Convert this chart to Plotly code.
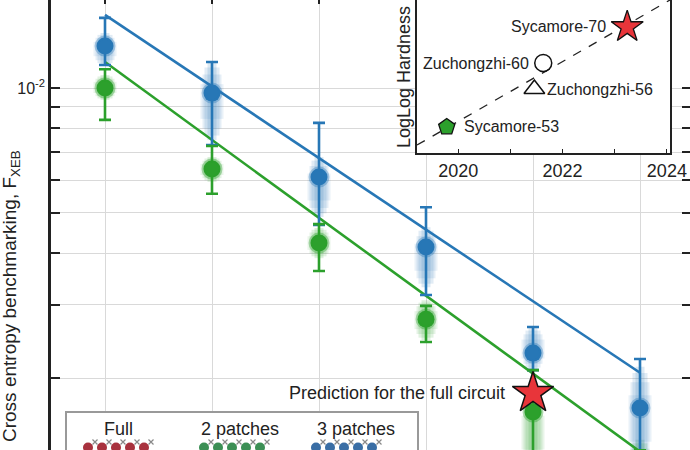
import numpy as np
import plotly.graph_objects as go

# ---------------- data ----------------
cycle_idx = [1, 2, 3, 4, 5, 6]

p3_xeb = [0.01262, 0.00972, 0.0061, 0.00414, 0.002297, 0.001694]
p3_err_hi = [0.01476, 0.01155, 0.00824, 0.00516, 0.002655, 0.002224]
p3_err_lo = [0.01136, 0.00729, 0.00468, 0.00317, 0.00209, 0.0012]
p3_vio_hi = [0.01357, 0.01149, 0.00682, 0.00462, 0.00264, 0.00213]
p3_vio_lo = [0.01136, 0.00749, 0.00489, 0.00331, 0.00209, 0.0012]

p2_xeb = [0.0100, 0.00638, 0.00423, 0.002773, 0.001656, 0.00118]
p2_err_hi = [0.0111, 0.00725, 0.0047, 0.002985, 0.00209, 0.00134]
p2_err_lo = [0.00838, 0.00556, 0.003624, 0.002443, 0.00113, 0.0009]
p2_vio_hi = [0.01075, 0.00682, 0.0046, 0.00308, 0.00182, 0.00142]
p2_vio_lo = [0.00936, 0.00594, 0.00389, 0.00247, 0.0012, 0.00102]

fit_x = [1, 6]
p3_fit = [0.0150, 0.00206]
p2_fit = [0.01155, 0.00133]

full_pred_x = [5]
full_pred_y = [0.00184]

y_tickvals = [0.002, 0.003, 0.004, 0.005, 0.006, 0.007, 0.008, 0.009, 0.01]
y_ticktext = ["", "", "", "", "", "", "", "", "10<sup>-2</sup>"]

# inset
exp_names = ["Sycamore-53", "Zuchongzhi-56", "Zuchongzhi-60", "Sycamore-70"]
exp_year = [2019.78, 2021.46, 2021.63, 2023.24]
exp_hard = [1.70, 4.18, 5.88, 8.24]
trend_year = [2019.21, 2024.06]
trend_hard = [0.52, 10.0]
year_ticks = [2020, 2021, 2022, 2023, 2024]
year_text = ["2020", "", "2022", "", "2024"]

legend_titles = ["Full", "2 patches", "3 patches"]

BLUE = "#2777b6"
GREEN = "#2ca02c"
FONT = "Liberation Sans, Arial, sans-serif"
DARK = "#222222"

W, H = 690, 450
L = 51
PW = W - L


def px_x(p):
    return (p - L) / PW


def px_y(p):
    return (H - p) / H


fig = go.Figure()


def band(lo, hi, col, thick, frac):
    llo = np.log10(np.array(lo))
    lhi = np.log10(np.array(hi))
    mid = (llo + lhi) / 2
    half = (lhi - llo) / 2 * frac
    top = 10 ** (mid + half)
    bot = 10 ** (mid - half)
    c = 10 ** mid
    fig.add_trace(go.Scatter(
        x=cycle_idx, y=list(c), mode="markers",
        marker=dict(size=1, color="rgba(0,0,0,0)"),
        error_y=dict(type="data", symmetric=False,
                     array=list(top - c), arrayminus=list(c - bot),
                     color=col, thickness=thick, width=0),
        showlegend=False, hoverinfo="skip"))


# violin bodies (tapered translucent bands)
for thick, frac, a in [(9, 1.0, 0.16), (15, 0.88, 0.14), (19, 0.7, 0.12), (23, 0.45, 0.10)]:
    band(p3_vio_lo, p3_vio_hi, f"rgba(39,119,182,{a})", thick, frac)
    band(p2_vio_lo, p2_vio_hi, f"rgba(44,160,44,{a})", thick, frac)

# fit lines
fig.add_trace(go.Scatter(x=fit_x, y=p3_fit, mode="lines",
                         line=dict(color=BLUE, width=2.6), showlegend=False))
fig.add_trace(go.Scatter(x=fit_x, y=p2_fit, mode="lines",
                         line=dict(color=GREEN, width=2.6), showlegend=False))

# points with error bars
for vals, hi, lo, col, halo in [
    (p3_xeb, p3_err_hi, p3_err_lo, BLUE, "rgba(39,119,182,0.35)"),
    (p2_xeb, p2_err_hi, p2_err_lo, GREEN, "rgba(44,160,44,0.35)"),
]:
    v = np.array(vals)
    fig.add_trace(go.Scatter(
        x=cycle_idx, y=vals, mode="markers",
        marker=dict(size=17, color=col, line=dict(color=halo, width=4)),
        error_y=dict(type="data", symmetric=False,
                     array=list(np.array(hi) - v),
                     arrayminus=list(v - np.array(lo)),
                     color=col, thickness=2.6, width=6),
        showlegend=False))

# full-circuit prediction
fig.add_trace(go.Scatter(x=full_pred_x, y=full_pred_y, mode="markers",
                         marker=dict(symbol="star", size=31, color="#e8353a",
                                     line=dict(color="#111111", width=1.5)),
                         showlegend=False))

# mirror-tick axes (right and top)
fig.add_trace(go.Scatter(x=[], y=[], yaxis="y2", showlegend=False))
fig.add_trace(go.Scatter(x=[], y=[], xaxis="x2", showlegend=False))

# inset
fig.add_trace(go.Scatter(x=trend_year, y=trend_hard, mode="lines",
                         line=dict(color="#222222", width=1.3, dash="dash"),
                         xaxis="x3", yaxis="y3", showlegend=False))
inset_sym = ["pentagon", "triangle-up-open", "circle-open", "star"]
inset_col = [GREEN, "#111111", "#111111", "#e8353a"]
inset_size = [17, 18, 17, 24]
for i in range(4):
    mk = dict(symbol=inset_sym[i], size=inset_size[i], color=inset_col[i],
              line=dict(color="#111111", width=1.3))
    if "open" in inset_sym[i]:
        mk = dict(symbol=inset_sym[i], size=inset_size[i], color="#111111",
                  line=dict(width=1.5))
    fig.add_trace(go.Scatter(x=[exp_year[i]], y=[exp_hard[i]], mode="markers",
                             marker=mk, xaxis="x3", yaxis="y3",
                             showlegend=False))

# legend box icons (decorative qubit rows)
icon_x_red = [88, 102, 116, 130, 144]
icon_x_green = [204, 218, 232, 246, 260]
icon_x_blue = [316, 330, 344, 358, 372]
icon_cols = ["#a8323e", "#3c8f55", "#3a6ea5"]
for xs, c in zip([icon_x_red, icon_x_green, icon_x_blue], icon_cols):
    fig.add_trace(go.Scatter(x=xs, y=[2.5] * len(xs), mode="markers",
                             marker=dict(symbol="circle", size=10, color=c),
                             xaxis="x4", yaxis="y4", showlegend=False))
    fig.add_trace(go.Scatter(x=[x + 7 for x in xs], y=[8] * len(xs), mode="markers",
                             marker=dict(symbol="x-thin", size=5,
                                         line=dict(color="#888888", width=1.2)),
                             xaxis="x4", yaxis="y4", showlegend=False))

ylog_rng = [-2 - 362 / 415, -2 + 88 / 415]
xr = [1 - 54 / 107, 6 + 50 / 107]

annotations = [
    dict(x=5, y=np.log10(full_pred_y[0]), xref="x", yref="y",
         text="Prediction for the full circuit", showarrow=False,
         xanchor="right", yanchor="middle", xshift=-26,
         font=dict(size=18, color=DARK, family=FONT)),
    dict(x=px_x(11), y=px_y(296), xref="paper", yref="paper",
         text="Cross entropy benchmarking, F<sub>XEB</sub>",
         textangle=-90, showarrow=False, xanchor="center", yanchor="middle",
         font=dict(size=19, color=DARK, family=FONT)),
    dict(x=px_x(404), y=px_y(77), xref="paper", yref="paper",
         text="LogLog Hardness", textangle=-90, showarrow=False,
         xanchor="center", yanchor="middle",
         font=dict(size=18, color=DARK, family=FONT)),
]
inset_lab = [
    (0, "left", 15), (1, "left", 11), (2, "right", -12), (3, "right", -19)
]
for i, anc, sh in inset_lab:
    annotations.append(dict(x=exp_year[i], y=exp_hard[i], xref="x3", yref="y3",
                            text=exp_names[i], showarrow=False, xanchor=anc,
                            yanchor="middle", xshift=sh,
                            font=dict(size=16, color=DARK, family=FONT)))
legend_cx = [118, 240, 356]
for t, cx in zip(legend_titles, legend_cx):
    annotations.append(dict(x=cx, y=21, xref="x4", yref="y4", text=t,
                            showarrow=False, xanchor="center", yanchor="middle",
                            font=dict(size=18, color=DARK, family=FONT)))

fig.update_layout(
    width=W, height=H, autosize=False,
    margin=dict(l=L, r=0, t=0, b=0, pad=0, autoexpand=False),
    paper_bgcolor="white", plot_bgcolor="white",
    font=dict(family=FONT, color=DARK),
    xaxis=dict(range=xr, tickvals=cycle_idx, showticklabels=False,
               showgrid=True, gridcolor="#d9d9d9", gridwidth=1.2,
               ticks="", showline=False, zeroline=False, domain=[0, 1],
               automargin=False),
    xaxis2=dict(range=xr, tickvals=cycle_idx, overlaying="x", side="top",
                ticks="inside", ticklen=4, tickwidth=1.5, tickcolor="#222222",
                showticklabels=False, showgrid=False, showline=False,
                zeroline=False, automargin=False),
    yaxis=dict(type="log", range=ylog_rng, tickvals=y_tickvals,
               ticktext=y_ticktext, ticks="inside", ticklen=9, tickwidth=1.5,
               tickcolor="#222222", showgrid=True, gridcolor="#d9d9d9",
               gridwidth=1.2, showline=True, linecolor="#222222", linewidth=2.5,
               tickfont=dict(size=16, color=DARK, family=FONT), zeroline=False,
               automargin=False),
    yaxis2=dict(type="log", range=ylog_rng, tickvals=y_tickvals,
                overlaying="y", side="right", ticks="inside", ticklen=8,
                tickwidth=1.5, tickcolor="#222222", showticklabels=False,
                showgrid=False, showline=False, zeroline=False,
                automargin=False),
    xaxis3=dict(domain=[px_x(417), px_x(670)], anchor="y3",
                range=trend_year, tickvals=year_ticks, ticktext=year_text,
                ticks="inside", ticklen=4, tickcolor="#222222",
                showline=True, linecolor="#222222", linewidth=2,
                showgrid=False, zeroline=False, automargin=False,
                tickfont=dict(size=18, color=DARK, family=FONT)),
    yaxis3=dict(domain=[px_y(153), 1], anchor="x3", range=[0, 10],
                showticklabels=False, ticks="", showline=True, mirror=True,
                linecolor="#222222", linewidth=2, showgrid=False,
                zeroline=False, automargin=False),
    xaxis4=dict(domain=[px_x(67), px_x(417)], anchor="y4", range=[67, 417],
                showticklabels=False, ticks="", showgrid=False, zeroline=False,
                showline=True, side="top", linecolor="#999999", linewidth=1.5,
                automargin=False),
    yaxis4=dict(domain=[0, px_y(413)], anchor="x4", range=[0, 37],
                showticklabels=False, ticks="", showgrid=False, zeroline=False,
                showline=True, mirror=True, linecolor="#999999", linewidth=1.5,
                automargin=False),
    annotations=annotations,
)

fig.write_html(
    "out.html",
    config={"responsive": False, "displayModeBar": False},
    post_script="document.body.style.margin='0';document.body.style.overflow='hidden';",
)
